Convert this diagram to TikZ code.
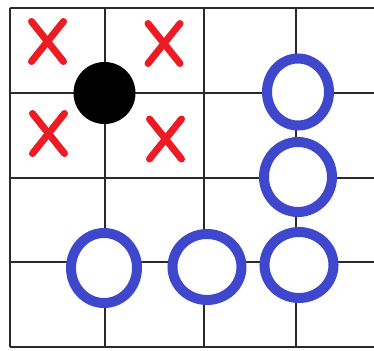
\documentclass[tikz,border=0pt]{standalone}
\usetikzlibrary{shapes.geometric}
\definecolor{ringblue}{HTML}{3F48CC}
\definecolor{xred}{HTML}{ED1C24}
\definecolor{gridc}{HTML}{2A2A2A}
\tikzset{
  gridline/.style={draw=gridc, line width=1.3pt},
  ring/.style={ellipse, draw=ringblue, fill=white, line width=10pt, inner sep=0pt},
  stone/.style={circle, fill=black, inner sep=0pt, minimum size=62pt},
  xmark/.style={draw=xred, line width=7pt, line cap=round},
}
\begin{document}
\begin{tikzpicture}[x=1pt,y=-1pt]
\useasboundingbox (0,0) rectangle (374,350);
% grid
\foreach \xx in {10,105,204,296} \draw[gridline] (\xx,8) -- (\xx,347);
\foreach \yy in {8,93,178,262,347} \draw[gridline] (10,\yy) -- (374,\yy);
% black stone
\node[stone] (s) at (104.5,93) {};
% red crosses
\coordinate (xa) at (47.5,41.5);
\coordinate (xb) at (164,43.5);
\coordinate (xc) at (48.5,133.5);
\coordinate (xd) at (165.5,139);
\foreach \c in {xa,xb,xc,xd}{
  \draw[xmark] ([shift={(-16,-20)}]\c) -- ([shift={(16,20)}]\c);
  \draw[xmark] ([shift={(16,-20)}]\c) -- ([shift={(-16,20)}]\c);
}
% blue rings
\node[ring, minimum width=62pt, minimum height=67pt] (r1) at (298,92) {};
\node[ring, minimum width=68pt, minimum height=70pt] (r2) at (298,177) {};
\node[ring, minimum width=69pt, minimum height=66pt] (r3) at (299,265) {};
\node[ring, minimum width=69pt, minimum height=66pt] (r4) at (207,267) {};
\node[ring, minimum width=66pt, minimum height=70pt] (r5) at (104,268) {};
\end{tikzpicture}
\end{document}
